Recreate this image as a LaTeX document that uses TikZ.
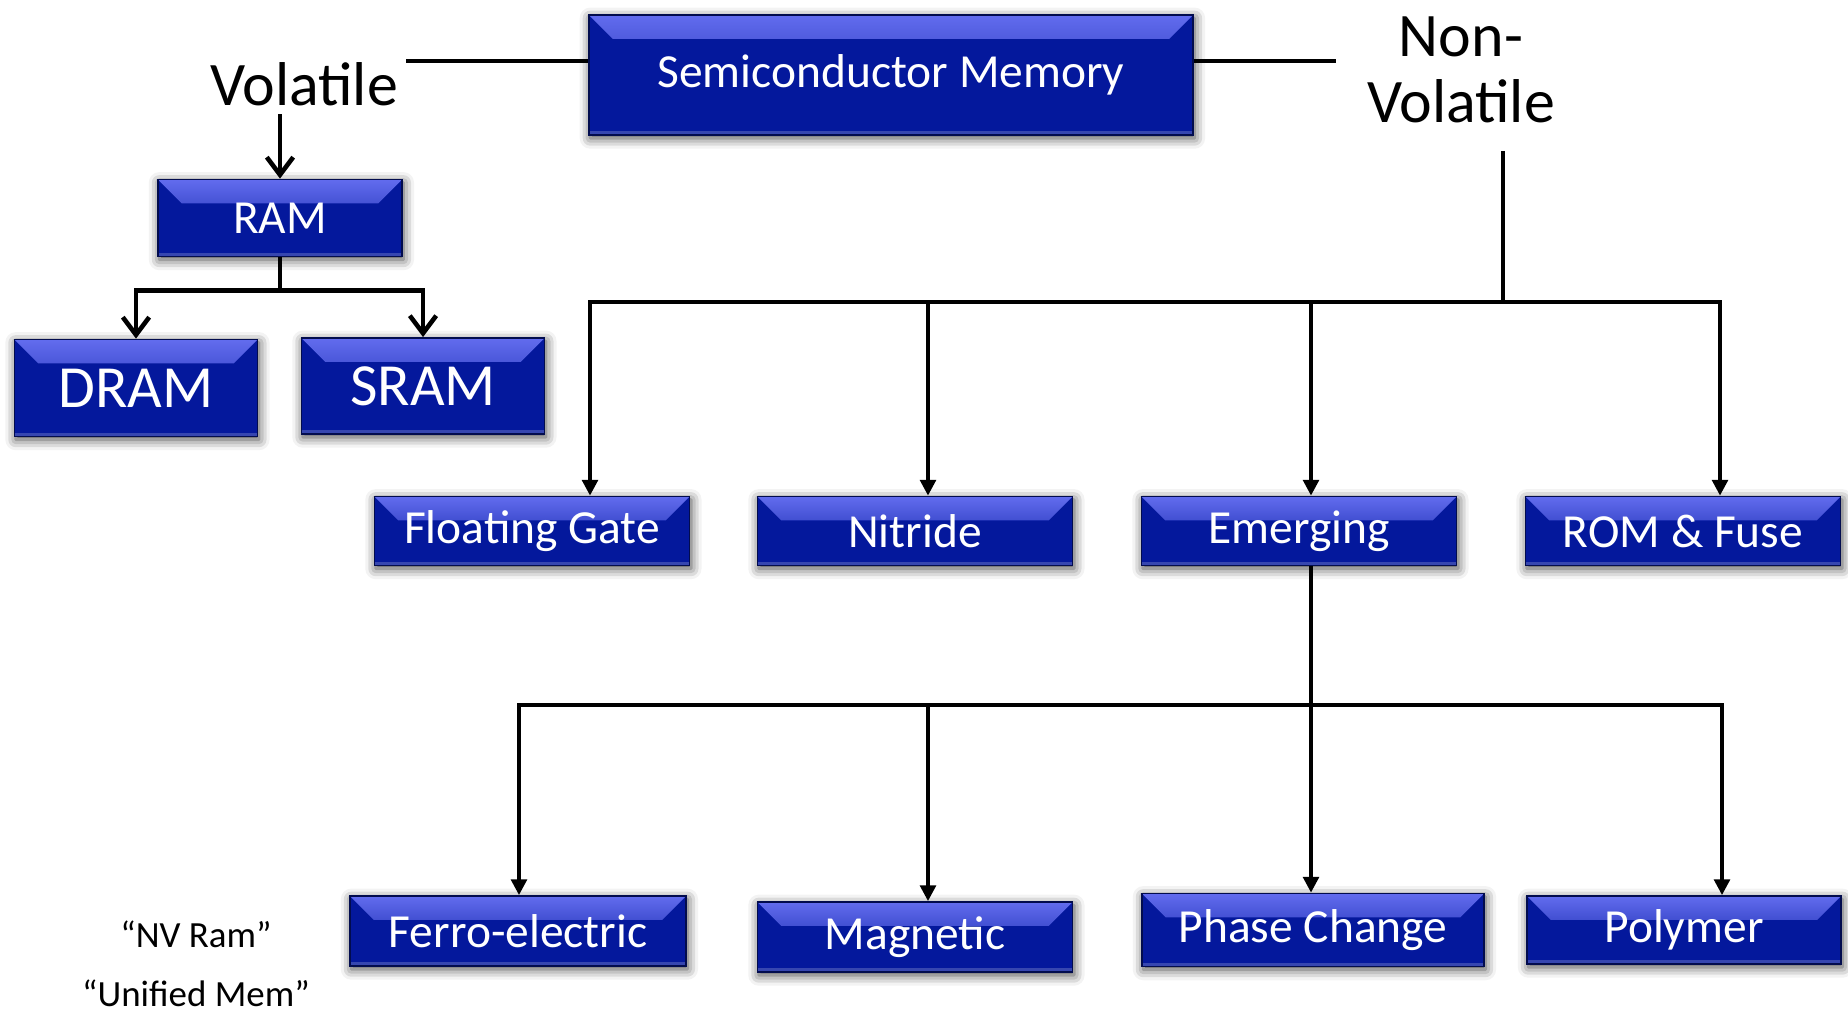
\documentclass[tikz,border=0pt]{standalone}
\usepackage{fontspec}
\setmainfont{Carlito}
\usepackage{xcolor}
\usepackage{tikz}
\usetikzlibrary{arrows.meta, shadows.blur}

\definecolor{memblue}{RGB}{4,24,156}
\definecolor{memlight}{RGB}{98,108,238}

\newcommand{\memfont}{\fontsize{13.5}{16}\selectfont}
\newcommand{\bigmemfont}{\fontsize{17}{20}\selectfont}
\newcommand{\branchfont}{\fontsize{17.6}{18.8}\selectfont}
\newcommand{\notefont}{\fontsize{10.5}{12}\selectfont}

\begin{document}
\begin{tikzpicture}[
    x=0.01cm, y=-0.01cm,
    mem_box/.style={fill=memblue, draw=memblue!50!black, line width=0.5pt, text=white, inner sep=0pt, font=\memfont,
        blur shadow={shadow xshift=0.4pt, shadow yshift=-0.9pt, shadow blur radius=3pt, shadow opacity=75},
        path picture={
            \fill[top color=memlight, bottom color=memblue]
                (path picture bounding box.north west) -- (path picture bounding box.north east)
                -- ([xshift=-0.24cm, yshift=-0.24cm]path picture bounding box.north east)
                -- ([xshift=0.24cm, yshift=-0.24cm]path picture bounding box.north west) -- cycle;
            \fill[memblue!80!white]
                (path picture bounding box.south west) rectangle ([yshift=0.04cm]path picture bounding box.south east);
        }},
    branch_text/.style={inner sep=2pt, font=\branchfont, align=center},
    note_text/.style={inner sep=0pt, font=\notefont},
    link_line/.style={line width=1pt, draw=black},
    arrow_line/.style={link_line, -{Triangle[length=4.5pt, width=4.5pt]}},
    vol_line/.style={line width=1.3pt, draw=black},
    vol_arrow/.style={vol_line, -{Straight Barb[length=5pt, width=7.5pt]}}
]
    \useasboundingbox (0,0) rectangle (1848,1013);

    % Top level
    \node (smem) [mem_box, minimum width=6.04cm, minimum height=1.2cm] at (891,75) {Semiconductor Memory};
    \node (vol) [branch_text, anchor=base] at (304,106) {Volatile};
    \node (nv) [branch_text, inner xsep=0.3cm] at (1461,70) {Non-\\Volatile};

    \coordinate (vtap) at ([yshift=0.14cm]smem.west);
    \draw [link_line] (vtap) -- (vtap -| vol.east);
    \draw [link_line] (vtap -| smem.east) -- (vtap -| nv.west);

    % Volatile side
    \node (ram) [mem_box, minimum width=2.44cm, minimum height=0.77cm] at (280,218) {RAM};
    \node (dram) [mem_box, minimum width=2.43cm, minimum height=0.97cm, font=\bigmemfont] at (136,388) {DRAM};
    \node (sram) [mem_box, minimum width=2.43cm, minimum height=0.96cm, font=\bigmemfont] at (423,386) {SRAM};

    \draw [vol_arrow] (vol.south -| ram.north) -- (ram.north);
    \draw [vol_arrow] (ram.south) -- ++(0,33) -| (dram.north);
    \draw [vol_arrow] (ram.south) -- ++(0,33) -| (sram.north);

    % Non-volatile side
    \node (fg) [mem_box, minimum width=3.15cm, minimum height=0.69cm] at (532,531) {Floating Gate};
    \node (nit) [mem_box, minimum width=3.15cm, minimum height=0.69cm] at (915,531) {Nitride};
    \node (emg) [mem_box, minimum width=3.15cm, minimum height=0.69cm] at (1299,531) {Emerging};
    \node (rom) [mem_box, minimum width=3.15cm, minimum height=0.69cm] at (1683,531) {ROM \& Fuse};

    \coordinate (nvtap) at ([xshift=0.42cm, yshift=-0.2cm]nv.south);
    \coordinate (bus1l) at (590,302);
    \coordinate (bus1r) at (1720,302);
    \coordinate (tnit) at (928,302);
    \coordinate (temg) at (1311,302);

    \draw [link_line] (nvtap) -- (nvtap |- bus1r);
    \draw [arrow_line] (nvtap |- bus1l) -- (bus1l) -- (bus1l |- fg.north);
    \draw [arrow_line] (nvtap |- bus1r) -- (bus1r) -- (bus1r |- rom.north);
    \draw [arrow_line] (tnit) -- (tnit |- nit.north);
    \draw [arrow_line] (temg) -- (temg |- emg.north);

    % Emerging types
    \node (fe) [mem_box, minimum width=3.36cm, minimum height=0.70cm] at (518,931) {Ferro-electric};
    \node (mag) [mem_box, minimum width=3.15cm, minimum height=0.70cm] at (915,937) {Magnetic};
    \node (pc) [mem_box, minimum width=3.42cm, minimum height=0.73cm] at (1313,930) {Phase Change};
    \node (poly) [mem_box, minimum width=3.14cm, minimum height=0.68cm] at (1684,930) {Polymer};

    \coordinate (bus2l) at (519,705);
    \coordinate (bus2r) at (1722,705);
    \coordinate (tmag) at (928,705);
    \coordinate (tpc) at (1311,705);

    \draw [arrow_line] (tpc |- emg.south) -- (tpc |- pc.north);
    \draw [arrow_line] (tpc) -- (bus2l) -- (bus2l |- fe.north);
    \draw [arrow_line] (tpc) -- (bus2r) -- (bus2r |- poly.north);
    \draw [arrow_line] (tmag) -- (tmag |- mag.north);

    % Notes
    \node (nvram) [note_text] at (196,934) {“NV Ram”};
    \node (unified) [note_text] at (196,993) {“Unified Mem”};
\end{tikzpicture}
\end{document}
